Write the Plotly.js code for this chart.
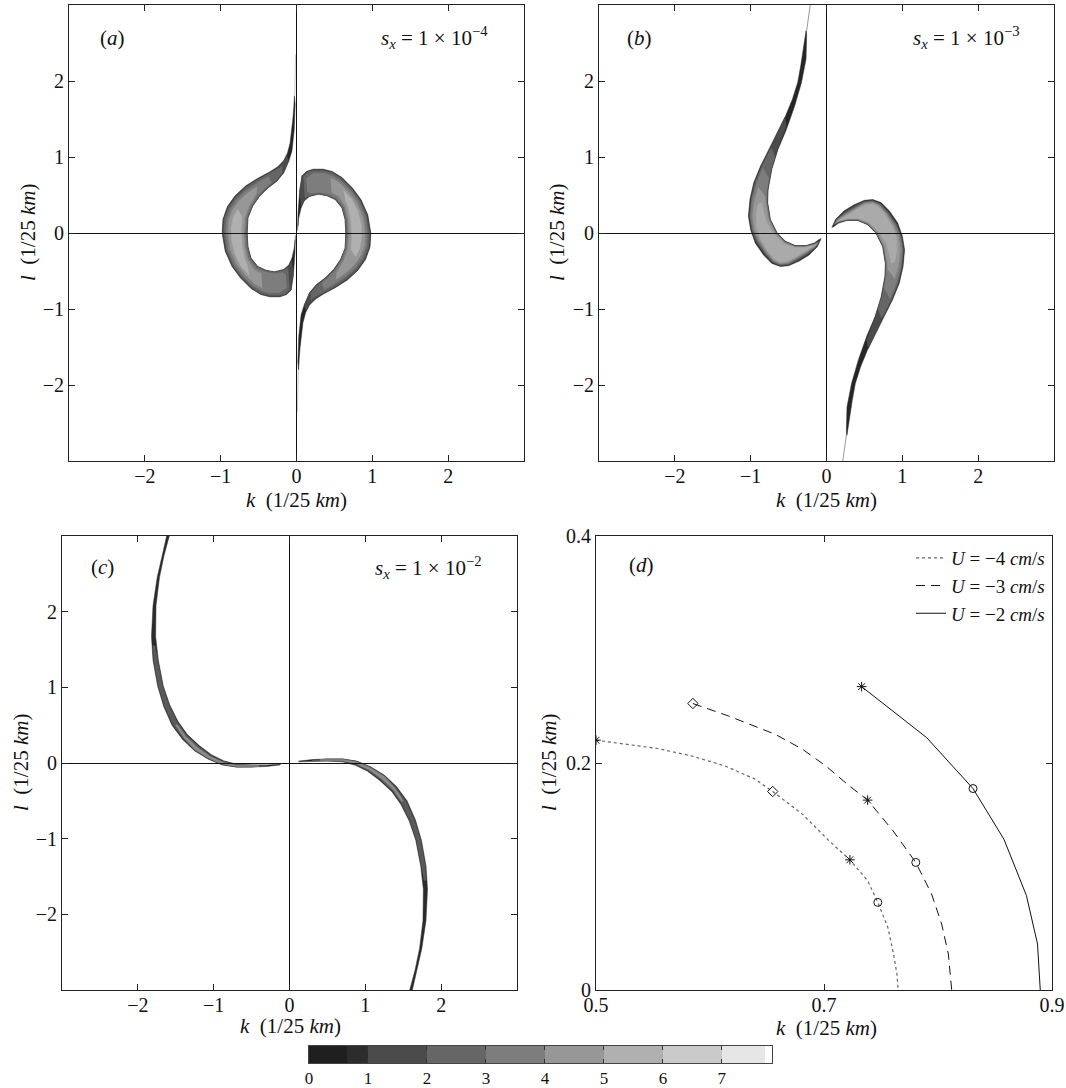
<!DOCTYPE html>
<html><head><meta charset="utf-8">
<script src="https://cdn.plot.ly/plotly-3.0.1.min.js"></script>
<style>html,body{margin:0;padding:0;background:#fff}#chart{width:1066px;height:1088px}</style>
</head><body><div id="chart"></div>
<script>
// ---------- band colours (growth-rate levels 0..7) ----------
const bandColors = ['#262626','#4b4b4b','#666666','#7d7d7d','#979797','#b0b0b0'];

// ---------- panel (a): right crescent outlines (left one is its point reflection) ----------
const aK0 = [0.015,0.02,0.04,0.07,0.13,0.22,0.35,0.47,0.60,0.74,0.85,0.94,0.98,0.97,0.91,0.81,0.67,0.51,0.36,0.25,0.17,0.12,0.085,0.065,0.048,0.036,0.028, 0.018,0.02,0.03,0.045,0.06,0.10,0.17,0.26,0.38,0.49,0.58,0.64,0.65,0.64,0.60,0.51,0.40,0.29,0.17,0.10,0.06,0.03,0.02];
const aL0 = [0.03,0.26,0.53,0.75,0.81,0.84,0.84,0.81,0.73,0.59,0.44,0.24,0,-0.18,-0.35,-0.49,-0.62,-0.72,-0.80,-0.87,-0.95,-1.05,-1.18,-1.33,-1.50,-1.65,-1.80, -1.70,-1.52,-1.36,-1.22,-1.08,-0.95,-0.79,-0.68,-0.59,-0.48,-0.35,-0.20,0,0.18,0.33,0.44,0.49,0.51,0.48,0.42,0.33,0.20,0.09];
const aK1 = [0.04,0.075,0.135,0.22,0.35,0.47,0.60,0.735,0.845,0.935,0.975,0.965,0.905,0.805,0.667,0.508,0.358,0.248,0.168,0.125, 0.105,0.172,0.262,0.382,0.492,0.582,0.642,0.652,0.642,0.602,0.512,0.40,0.29,0.17,0.10,0.06];
const aL1 = [0.55,0.745,0.805,0.835,0.835,0.805,0.725,0.585,0.435,0.238,0,-0.18,-0.35,-0.487,-0.615,-0.713,-0.793,-0.863,-0.94,-1.02, -0.95,-0.79,-0.683,-0.593,-0.483,-0.352,-0.20,0,0.18,0.332,0.444,0.494,0.514,0.485,0.425,0.34];
const aK2 = [0.09,0.14,0.22,0.35,0.47,0.59,0.725,0.835,0.92,0.96,0.95,0.89,0.795,0.66,0.505,0.355,0.25,0.19, 0.19,0.27,0.385,0.495,0.585,0.645,0.657,0.647,0.607,0.515,0.40,0.29,0.17,0.11];
const aL2 = [0.74,0.795,0.82,0.82,0.79,0.715,0.58,0.43,0.235,0,-0.18,-0.34,-0.475,-0.60,-0.70,-0.78,-0.84,-0.88, -0.79,-0.69,-0.60,-0.49,-0.355,-0.20,0,0.18,0.335,0.448,0.498,0.518,0.49,0.46];
const aK3 = [0.13,0.22,0.35,0.46,0.58,0.71,0.815,0.90,0.935,0.925,0.87,0.78,0.65,0.50,0.37, 0.33,0.41,0.51,0.60,0.66,0.675,0.665,0.625,0.53,0.41,0.29,0.19,0.14];
const aL3 = [0.72,0.785,0.79,0.76,0.69,0.565,0.42,0.23,0,-0.17,-0.32,-0.45,-0.57,-0.67,-0.74, -0.665,-0.595,-0.49,-0.355,-0.20,0,0.18,0.34,0.46,0.515,0.535,0.52,0.55];
const aK4 = [0.45,0.55,0.68,0.785,0.87,0.905,0.895,0.845,0.76,0.64,0.52, 0.53,0.62,0.68,0.695,0.685,0.645,0.56,0.46];
const aL4 = [0.725,0.67,0.545,0.41,0.22,0,-0.16,-0.30,-0.42,-0.53,-0.61, -0.52,-0.37,-0.21,0,0.18,0.35,0.48,0.54];
const aK5 = [0.62,0.73,0.81,0.855,0.86,0.835,0.78, 0.72,0.73,0.72,0.69,0.64];
const aL5 = [0.56,0.44,0.28,0.10,-0.06,-0.20,-0.31, -0.22,-0.05,0.15,0.32,0.45];
const aTailK = [0.025,0.018,0.012];
const aTailL = [-1.75,-2.05,-2.35];

// ---------- panel (b) ----------
const bK0 = [0.07,0.12,0.23,0.36,0.50,0.61,0.72,0.83,0.94,1.00,1.03,1.01,0.96,0.87,0.76,0.65,0.54,0.45,0.38,0.34,0.30,0.27, 0.262,0.27,0.33,0.42,0.53,0.64,0.72,0.77,0.775,0.74,0.65,0.54,0.41,0.27,0.16,0.09];
const bL0 = [0.07,0.18,0.29,0.37,0.43,0.44,0.40,0.29,0.13,-0.04,-0.22,-0.44,-0.66,-0.88,-1.10,-1.32,-1.54,-1.76,-1.98,-2.20,-2.46,-2.66, -2.60,-2.29,-1.98,-1.67,-1.36,-1.10,-0.84,-0.57,-0.40,-0.18,0,0.11,0.165,0.165,0.13,0.08];
const bK1 = [0.08,0.13,0.24,0.37,0.50,0.61,0.71,0.82,0.93,0.99,1.02,1.00,0.95,0.86,0.75,0.64,0.55, 0.53,0.64,0.725,0.775,0.78,0.745,0.655,0.54,0.41,0.27,0.16];
const bL1 = [0.09,0.18,0.28,0.36,0.42,0.43,0.39,0.28,0.12,-0.04,-0.22,-0.44,-0.66,-0.88,-1.10,-1.32,-1.52, -1.40,-1.12,-0.85,-0.57,-0.40,-0.18,0,0.115,0.17,0.17,0.14];
const bK2 = [0.10,0.14,0.25,0.38,0.50,0.61,0.71,0.81,0.92,0.98,1.01,0.99,0.94,0.85,0.73, 0.68,0.735,0.78,0.785,0.75,0.66,0.54,0.41,0.27,0.17];
const bL2 = [0.11,0.18,0.27,0.35,0.41,0.42,0.38,0.27,0.11,-0.04,-0.22,-0.44,-0.66,-0.88,-1.12, -1.0,-0.82,-0.57,-0.40,-0.18,0,0.12,0.175,0.175,0.15];
const bK3 = [0.11,0.15,0.26,0.39,0.50,0.61,0.70,0.80,0.91,0.97,1.00,0.98,0.92,0.84, 0.76,0.79,0.79,0.755,0.665,0.545,0.41,0.27,0.18];
const bL3 = [0.12,0.18,0.26,0.34,0.40,0.41,0.37,0.26,0.10,-0.04,-0.22,-0.44,-0.66,-0.86, -0.72,-0.55,-0.40,-0.18,0,0.125,0.18,0.18,0.155];
const bK4 = [0.12,0.16,0.27,0.40,0.51,0.61,0.70,0.79,0.89,0.95,0.975,0.95,0.90, 0.81,0.80,0.765,0.675,0.55,0.41,0.28,0.19];
const bL4 = [0.13,0.18,0.25,0.33,0.39,0.40,0.36,0.25,0.09,-0.05,-0.22,-0.42,-0.60, -0.48,-0.38,-0.18,0,0.13,0.185,0.185,0.16];
const bK5 = [0.14,0.28,0.41,0.52,0.61,0.69,0.78,0.87,0.92,0.93,0.90,0.85, 0.83,0.79,0.69,0.56,0.42,0.29,0.20];
const bL5 = [0.15,0.24,0.32,0.37,0.38,0.34,0.23,0.08,-0.06,-0.22,-0.38,-0.40, -0.28,-0.14,0.02,0.14,0.19,0.19,0.17];
const bTailK = [0.27,0.245,0.215];
const bTailL = [-2.6,-2.8,-3.0];

// ---------- panel (c) ----------
const cK0 = [0.12,0.30,0.50,0.70,0.89,1.07,1.25,1.41,1.55,1.66,1.74,1.80,1.82,1.80,1.745,1.68,1.62, 1.585,1.655,1.715,1.76,1.765,1.73,1.665,1.58,1.47,1.35,1.19,1.03,0.87,0.70,0.50,0.30,0.12];
const cL0 = [0.025,0.045,0.055,0.055,0.025,-0.05,-0.16,-0.31,-0.50,-0.75,-1.02,-1.36,-1.67,-2.08,-2.45,-2.74,-3.0, -3.0,-2.74,-2.45,-2.08,-1.67,-1.36,-1.02,-0.77,-0.55,-0.38,-0.23,-0.11,-0.03,0.015,0.025,0.025,0.015];
const cK1 = [0.30,0.50,0.70,0.89,1.07,1.25,1.40,1.54,1.65,1.73,1.79,1.80, 1.775,1.74,1.675,1.59,1.48,1.36,1.20,1.04,0.88,0.70,0.50,0.30];
const cL1 = [0.04,0.05,0.05,0.018,-0.058,-0.17,-0.32,-0.51,-0.755,-1.02,-1.36,-1.55, -1.55,-1.36,-1.02,-0.765,-0.54,-0.37,-0.22,-0.10,-0.02,0.022,0.03,0.03];
const cK2 = [0.40,0.70,0.89,1.07,1.25,1.39,1.50, 1.48,1.37,1.22,1.05,0.885,0.70,0.40];
const cL2 = [0.045,0.045,0.012,-0.065,-0.18,-0.33,-0.50, -0.51,-0.355,-0.21,-0.09,-0.012,0.03,0.035];
const cColors = ['#2b2b2b','#5a5a5a','#8a8a8a'];

// ---------- panel (d) ----------
const u4K = [0.500,0.5245,0.554,0.5835,0.613,0.6395,0.655,0.681,0.7044,0.7227,0.7383,0.7472,0.756,0.761,0.764,0.765];
const u4L = [0.2201,0.2166,0.2128,0.2063,0.1975,0.1858,0.1749,0.155,0.1315,0.1147,0.0963,0.0772,0.0552,0.0317,0.0141,0];
const u3K = [0.585,0.616,0.657,0.681,0.7015,0.7221,0.7383,0.7605,0.7805,0.7944,0.8032,0.8091,0.812];
const u3L = [0.2524,0.2415,0.2254,0.2122,0.1975,0.1799,0.1673,0.1403,0.1124,0.0845,0.0581,0.0317,0];
const u2K = [0.733,0.790,0.8307,0.8578,0.8776,0.8873,0.8897];
const u2L = [0.2673,0.2224,0.1775,0.1329,0.0831,0.0405,0];
const markK = [0.500,0.655,0.7227,0.7472, 0.585,0.7383,0.7805, 0.733,0.8307];
const markL = [0.2201,0.1749,0.1147,0.0772, 0.2524,0.1673,0.1124, 0.2673,0.1775];
const markSym = ['asterisk-open','diamond-open','asterisk-open','circle-open','diamond-open','asterisk-open','circle-open','asterisk-open','circle-open'];
const seriesNames = ['<i>U</i> = −4 <i>cm</i>/<i>s</i>','<i>U</i> = −3 <i>cm</i>/<i>s</i>','<i>U</i> = −2 <i>cm</i>/<i>s</i>'];

// ---------- colour bar ----------
const cbEdges = [0,0.64,1,2,3,4,5,6,7,7.73,7.85];
const cbColors = ['#1f1f1f','#2c2c2c','#4b4b4b','#666666','#7d7d7d','#979797','#b0b0b0','#cacaca','#e6e6e6','#ffffff'];
const cbTicks = [0,1,2,3,4,5,6,7];

// ================= build =================
const W = 1066, H = 1088;
const FONT = '"Liberation Serif", "Times New Roman", serif';
const fx = p => p / W, fy = p => 1 - p / H;
const traces = [];
const neg = a => a.map(v => -v);

function poly(k, l, color, ax, ay) {
  traces.push({type:'scatter', mode:'lines', x:k, y:l, fill:'toself', fillcolor:color,
    line:{color:color, width:0.5}, xaxis:ax, yaxis:ay, showlegend:false, hoverinfo:'skip'});
}
function pair(k, l, color, ax, ay) { poly(k, l, color, ax, ay); poly(neg(k), neg(l), color, ax, ay); }
function tail(k, l, color, ax, ay) {
  [[k,l],[neg(k),neg(l)]].forEach(([kk,ll]) => traces.push({type:'scatter', mode:'lines', x:kk, y:ll,
    line:{color:color, width:1}, xaxis:ax, yaxis:ay, showlegend:false, hoverinfo:'skip'}));
}

// panel a
tail(aTailK, aTailL, '#c8c8c8', 'x', 'y');
[[aK0,aL0],[aK1,aL1],[aK2,aL2],[aK3,aL3],[aK4,aL4],[aK5,aL5]].forEach((p,i)=>pair(p[0],p[1],bandColors[i],'x','y'));
// panel b
tail(bTailK, bTailL, '#9a9a9a', 'x2', 'y2');
[[bK0,bL0],[bK1,bL1],[bK2,bL2],[bK3,bL3],[bK4,bL4],[bK5,bL5]].forEach((p,i)=>pair(p[0],p[1],i===5?'#aaaaaa':bandColors[i],'x2','y2'));
// panel c
[[cK0,cL0],[cK1,cL1],[cK2,cL2]].forEach((p,i)=>pair(p[0],p[1],cColors[i],'x3','y3'));

// panel d
const lineStyles = [{color:'#666', width:1.2, dash:'dot'},{color:'#111', width:1, dash:'9px,6px'},{color:'#111', width:1, dash:'solid'}];
[[u4K,u4L],[u3K,u3L],[u2K,u2L]].forEach((s,i)=>traces.push({type:'scatter', mode:'lines', x:s[0], y:s[1],
  name:seriesNames[i], line:lineStyles[i], xaxis:'x4', yaxis:'y4', hoverinfo:'skip'}));
traces.push({type:'scatter', mode:'markers', x:markK, y:markL, xaxis:'x4', yaxis:'y4', showlegend:false,
  marker:{symbol:markSym, size:8, color:'#111', line:{color:'#111', width:1}}, hoverinfo:'skip'});

// colour bar
const cbStart = cbEdges.slice(0,-1);
const cbWidth = cbEdges.slice(1).map((v,i)=>v-cbEdges[i]);
traces.push({type:'bar', orientation:'h', x:cbWidth, base:cbStart, y:cbStart.map(()=>0.5), width:1,
  marker:{color:cbColors, line:{width:0}}, xaxis:'x5', yaxis:'y5', showlegend:false, hoverinfo:'skip'});

// axes
const tickFont = {family:FONT, size:20, color:'#111'};
function sqAx(domain, anchor, isX) {
  const ax = {domain:domain, anchor:anchor, range:[-3,3], tickvals:[-2,-1,0,1,2], ticks:'inside', ticklen:6,
    tickcolor:'#222', showline:true, linecolor:'#222', linewidth:1, mirror:'ticks', zeroline:true,
    zerolinecolor:'#111', zerolinewidth:1, zerolinelayer:'above traces', showgrid:false, tickfont:tickFont,
    fixedrange:true, automargin:false};
  if (isX) ax.ticklabelstandoff = -3;
  return ax;
}
const rowTop = [fy(461), fy(5)], rowBot = [fy(990), fy(536)];
const layout = {
  width:W, height:H, margin:{l:0,r:0,t:0,b:0}, paper_bgcolor:'#fff', plot_bgcolor:'#fff',
  font:{family:FONT, color:'#111'}, showlegend:true, bargap:0,
  xaxis: sqAx([fx(69), fx(524)], 'y', true),  yaxis: sqAx(rowTop, 'x'),
  xaxis2: sqAx([fx(599), fx(1054)], 'y2', true), yaxis2: sqAx(rowTop, 'x2'),
  xaxis3: sqAx([fx(62), fx(517)], 'y3', true), yaxis3: sqAx(rowBot, 'x3'),
  xaxis4: {domain:[fx(596), fx(1052)], anchor:'y4', range:[0.5,0.9], tickvals:[0.5,0.7,0.9], ticks:'inside', ticklen:6,
    tickcolor:'#222', showline:true, linecolor:'#222', mirror:'ticks', zeroline:false, showgrid:false, tickfont:tickFont,
    ticklabelstandoff:-3, fixedrange:true},
  yaxis4: {domain:rowBot, anchor:'x4', range:[0,0.4], tickvals:[0,0.2,0.4], ticks:'inside', ticklen:6,
    tickcolor:'#222', showline:true, linecolor:'#222', mirror:'ticks', zeroline:false, showgrid:false, tickfont:tickFont, fixedrange:true},
  xaxis5: {domain:[fx(309), fx(772)], anchor:'y5', range:[0,7.85], tickvals:cbTicks, ticks:'inside', ticklen:4,
    tickcolor:'#333', showline:true, linecolor:'#444', mirror:'ticks', zeroline:false, showgrid:false,
    tickfont:{family:FONT, size:17, color:'#111'}, fixedrange:true},
  yaxis5: {domain:[fy(1063), fy(1046)], anchor:'x5', range:[0,1], showticklabels:false, ticks:'', showline:true,
    linecolor:'#444', mirror:true, zeroline:false, showgrid:false, fixedrange:true},
  legend: {x:fx(1050), xanchor:'right', y:fy(539), yanchor:'top', bgcolor:'rgba(0,0,0,0)', borderwidth:0,
    font:{family:FONT, size:19, color:'#111'}, tracegroupgap:0},
  annotations: []
};

const A = layout.annotations;
function note(text, x, y, opts) {
  A.push(Object.assign({text:text, x:fx(x), y:fy(y), xref:'paper', yref:'paper', xanchor:'center', yanchor:'middle',
    showarrow:false, font:{family:FONT, size:21, color:'#111'}}, opts||{}));
}
const kTitle = '<i>k</i>  (1/25 <i>km</i>)';
const lTitle = '<i>l</i>  (1/25 <i>km</i>)';
// panel labels
note('(<i>a</i>)', 112, 38); note('(<i>b</i>)', 639, 38); note('(<i>c</i>)', 102, 567); note('(<i>d</i>)', 641, 565);
note('<i>s<sub>x</sub></i> = 1 × 10<sup>−4</sup>', 434, 38);
note('<i>s<sub>x</sub></i> = 1 × 10<sup>−3</sup>', 966, 38);
note('<i>s<sub>x</sub></i> = 1 × 10<sup>−2</sup>', 428, 567);
// axis titles
note(kTitle, 296, 500); note(kTitle, 826, 500); note(kTitle, 290, 1026); note(kTitle, 826, 1028);
note(lTitle, 28, 233, {textangle:-90}); note(lTitle, 557, 233, {textangle:-90});
note(lTitle, 21, 763, {textangle:-90}); note(lTitle, 549, 763, {textangle:-90});

Plotly.newPlot('chart', traces, layout, {displayModeBar:false, staticPlot:true});
</script>
</body></html>
